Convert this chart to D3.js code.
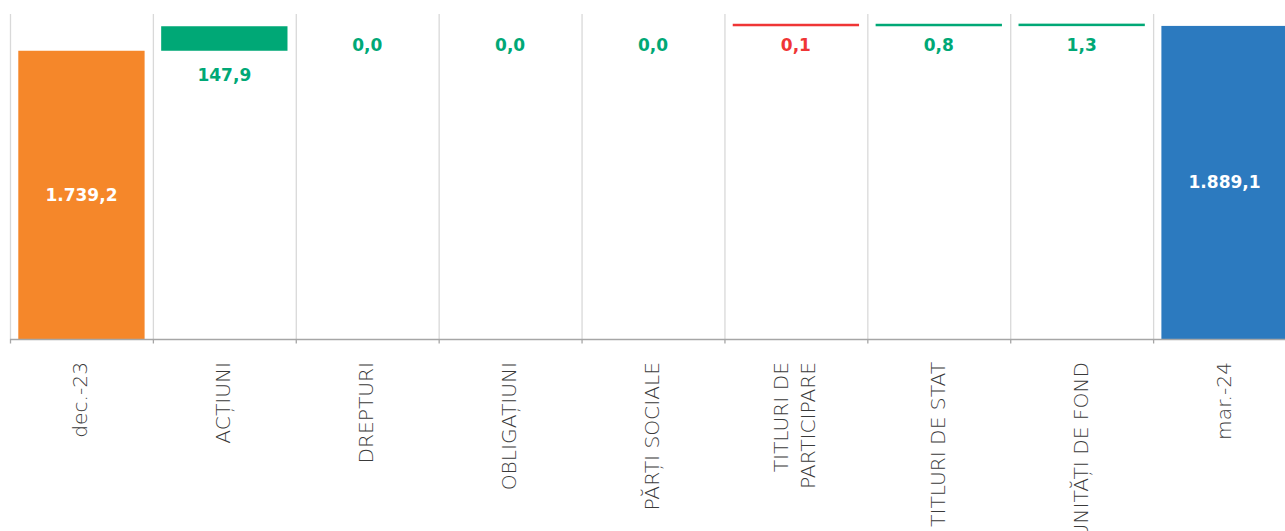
<!DOCTYPE html>
<html lang="ro">
<head>
<meta charset="utf-8">
<title>Waterfall</title>
<script src="https://d3js.org/d3.v7.min.js"></script>
<style>
    body, html {
        margin: 0;
        padding: 0;
        background: #fff;
        overflow: hidden;
    }
    .cat {
        font: 200 20.2px "DejaVu Sans", sans-serif;
        fill: #3a3a3a;
    }
    .val {
        font: bold 17px "DejaVu Sans", sans-serif;
    }
</style>
</head>
<body>
<svg id="chart" width="1285" height="531"></svg>
<script>
// data
var categories = ["dec.-23", "ACȚIUNI", "DREPTURI", "OBLIGAȚIUNI", "PĂRȚI SOCIALE",
                  "TITLURI DE PARTICIPARE", "TITLURI DE STAT", "UNITĂȚI DE FOND", "mar.-24"];
var labelLines = [["dec.-23"], ["ACȚIUNI"], ["DREPTURI"], ["OBLIGAȚIUNI"], ["PĂRȚI SOCIALE"],
                  ["TITLURI DE", "PARTICIPARE"], ["TITLURI DE STAT"], ["UNITĂȚI DE FOND"], ["mar.-24"]];
var values = [1739.2, 147.9, 0.0, 0.0, 0.0, -0.1, 0.8, 1.3, 1889.1];
var kinds = ["start", "delta", "delta", "delta", "delta", "delta", "delta", "delta", "end"];
var yMax = 1961;

var colors = { start: "#f5872a", end: "#2c7abf", up: "#00a876", down: "#ef3535" };

var svg = d3.select("#chart"),
    plotLeft = 10, plotRight = 1296, plotTop = 14, plotBottom = 339;

var x = d3.scaleBand()
    .domain(categories)
    .range([plotLeft, plotRight])
    .paddingInner(0.116)
    .paddingOuter(0.058);

var y = d3.scaleLinear()
    .domain([0, yMax])
    .range([plotBottom, plotTop]);

var ro = d3.formatLocale({ decimal: ",", thousands: ".", grouping: [3], currency: ["", ""] });
var fmt = ro.format(",.1f");

// running totals for the waterfall
var running = 0;
var bars = categories.map(function (c, i) {
    var v = values[i], b;
    if (kinds[i] === "delta") {
        b = { cat: c, kind: v < 0 ? "down" : "up", start: running, end: running + v, v: v };
        running += v;
    } else {
        b = { cat: c, kind: kinds[i], start: 0, end: v, v: v };
        running = v;
    }
    return b;
});

var step = x.step();
var bounds = d3.range(categories.length).map(function (i) { return plotLeft + i * step; });

// vertical category separators
svg.append("g").selectAll("line")
    .data(bounds)
    .enter().append("line")
    .attr("x1", function (d) { return d + 0.5; })
    .attr("x2", function (d) { return d + 0.5; })
    .attr("y1", plotTop)
    .attr("y2", plotBottom)
    .attr("stroke", "#d9d9d9")
    .attr("stroke-width", 1.3);

// bars
svg.append("g").selectAll("rect")
    .data(bars.filter(function (d) { return d.v !== 0; }))
    .enter().append("rect")
    .attr("x", function (d) { return x(d.cat); })
    .attr("width", x.bandwidth())
    .attr("y", function (d) {
        var y0 = y(Math.max(d.start, d.end)), h = Math.abs(y(d.start) - y(d.end));
        return h < 2.5 ? y0 - (2.5 - h) : y0;
    })
    .attr("height", function (d) { return Math.max(2.5, Math.abs(y(d.start) - y(d.end))); })
    .attr("fill", function (d) { return colors[d.kind]; });

// axis line and ticks
svg.append("line")
    .attr("x1", plotLeft).attr("x2", 1285)
    .attr("y1", plotBottom + 0.5).attr("y2", plotBottom + 0.5)
    .attr("stroke", "#a6a6a6").attr("stroke-width", 1.3);

svg.append("g").selectAll("line")
    .data(bounds)
    .enter().append("line")
    .attr("x1", function (d) { return d + 0.5; })
    .attr("x2", function (d) { return d + 0.5; })
    .attr("y1", plotBottom)
    .attr("y2", plotBottom + 4.5)
    .attr("stroke", "#a6a6a6")
    .attr("stroke-width", 1.3);

// value labels
svg.append("g").selectAll("text")
    .data(bars)
    .enter().append("text")
    .attr("class", "val")
    .attr("text-anchor", "middle")
    .attr("x", function (d) { return x(d.cat) + x.bandwidth() / 2; })
    .attr("y", function (d) {
        if (d.kind === "start" || d.kind === "end") return (y(d.end) + y(0)) / 2 + 6;
        var h = Math.abs(y(d.start) - y(d.end));
        return y(Math.min(d.start, d.end)) + (h > 5 ? 30 : 25);
    })
    .attr("fill", function (d) {
        return (d.kind === "start" || d.kind === "end") ? "#fff" : colors[d.kind];
    })
    .text(function (d) { return fmt(Math.abs(d.v)); });

// category labels, rotated
var cat = svg.append("g").selectAll("text")
    .data(categories)
    .enter().append("text")
    .attr("class", "cat")
    .attr("text-anchor", "end")
    .attr("transform", function (d) {
        return "translate(" + (x(d) + x.bandwidth() / 2) + "," + 362 + ") rotate(-90)";
    });

cat.each(function (d, i) {
    var lines = labelLines[i], n = lines.length;
    d3.select(this).selectAll("tspan")
        .data(lines)
        .enter().append("tspan")
        .attr("x", 0)
        .attr("y", function (l, j) { return 6 + (j - (n - 1) / 2) * 27; })
        .text(function (l) { return l; });
});
</script>
</body>
</html>
